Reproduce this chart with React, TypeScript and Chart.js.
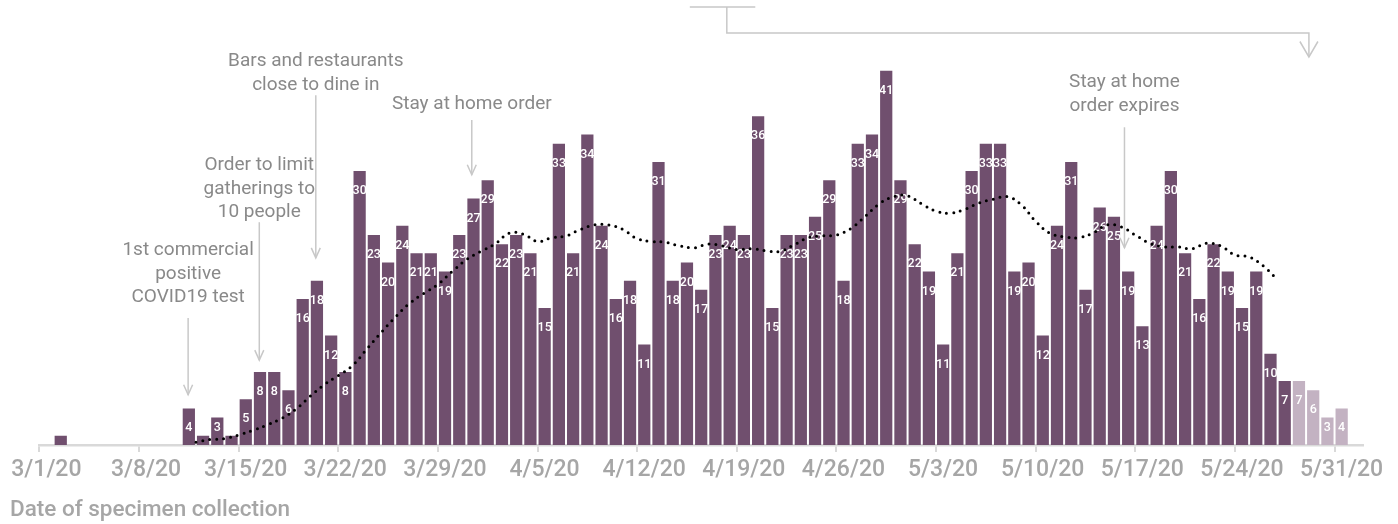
import React, { useEffect, useRef } from "react";
import { Chart, registerables } from "chart.js";

Chart.register(...registerables);

// Daily counts by date of specimen collection, 3/1/20 – 5/27/20
const reportedCases = [
  0, 1, 0, 0, 0, 0, 0, 0, 0, 0, 4, 1, 3, 1, 5, 8, 8, 6, 16, 18, 12, 8, 30, 23, 20, 24, 21, 21, 19, 23,
  27, 29, 22, 23, 21, 15, 33, 21, 34, 24, 16, 18, 11, 31, 18, 20, 17, 23, 24, 23, 36, 15, 23, 23, 25, 29,
  18, 33, 34, 41, 29, 22, 19, 11, 21, 30, 33, 33, 19, 20, 12, 24, 31, 17, 26, 25, 19, 13, 24, 30, 21, 16,
  22, 19, 15, 19, 10, 7,
];
// Most recent days (lighter bars), 5/28/20 – 5/31/20
const pendingCases = [7, 6, 3, 4];

// Dotted trend line, one value per day starting at day index 11 (3/12/20)
const trendStartDay = 11;
const trendValues = [
  0.3, 0.6, 0.7, 1.1, 1.6, 2.2, 2.9, 3.9, 5.3, 6.6, 7.6, 8.7, 10.5, 12.3, 14.0, 15.5, 16.6, 17.6, 19.0,
  20.3, 21.2, 22.0, 23.2, 23.1, 22.3, 22.7, 22.9, 23.6, 24.1, 24.1, 23.6, 22.6, 22.3, 22.2, 21.8, 21.6,
  22.0, 21.8, 21.4, 21.5, 21.3, 21.2, 21.9, 22.7, 22.9, 23.0, 23.7, 25.0, 26.4, 27.2, 27.3, 26.4, 25.6,
  25.4, 25.8, 26.5, 26.9, 27.2, 26.3, 24.5, 23.2, 22.8, 22.7, 23.2, 24.1, 23.9, 23.0, 22.1, 21.7, 21.7,
  21.5, 22.1, 21.8, 20.8, 20.6, 19.6, 18.1,
];

// Weekly tick labels (every 7 days from 3/1/20)
const weekTickLabels = [
  "3/1/20", "3/8/20", "3/15/20", "3/22/20", "3/29/20", "4/5/20", "4/12/20",
  "4/19/20", "4/26/20", "5/3/20", "5/10/20", "5/17/20", "5/24/20", "5/31/20",
];
const axisTitle = "Date of specimen collection";

// Event annotations (day position, text lines, text/arrow heights in case units)
const annotations = [
  { day: 10.45, lines: ["1st commercial", "positive", "COVID19 test"], textTop: 21.3, arrowFrom: 13.9, arrowTo: 5.5 },
  { day: 15.45, lines: ["Order to limit", "gatherings to", "10 people"], textTop: 30.6, arrowFrom: 24.4, arrowTo: 9.3 },
  { day: 19.42, lines: ["Bars and restaurants", "close to dine in"], textTop: 42.0, arrowFrom: 38.3, arrowTo: 20.5 },
  { day: 30.38, lines: ["Stay at home order"], textTop: 37.3, arrowFrom: 35.6, arrowTo: 29.6 },
  { day: 76.24, lines: ["Stay at home", "order expires"], textTop: 39.7, arrowFrom: 34.8, arrowTo: 21.6 },
];

const BAR_COLOR = "#704F6E";
const PENDING_COLOR = "#C3B2C2";
const AXIS_COLOR = "#D9D9D9";
const TICK_TEXT = "#A6A6A6";
const NOTE_TEXT = "#898989";
const ARROW_COLOR = "#C8C8C8";
const FONT = "Roboto";

const dailyCases = [...reportedCases, ...pendingCases];

const barLabelPlugin = {
  id: "barLabels",
  afterDatasetDraw(chart: any, args: any) {
    if (args.index !== 0) return;
    const ctx = chart.ctx;
    const meta = chart.getDatasetMeta(0);
    ctx.save();
    ctx.font = `500 12.5px ${FONT}`;
    ctx.fillStyle = "#FFFFFF";
    ctx.textAlign = "center";
    ctx.textBaseline = "middle";
    meta.data.forEach((bar: any, i: number) => {
      const v = dailyCases[i];
      if (v < 3) return;
      const h = bar.base - bar.y;
      const off = Math.min(20, h - 17);
      ctx.fillText(String(v), bar.x, bar.y + off);
    });
    ctx.restore();
  },
};

function drawChevron(ctx: CanvasRenderingContext2D, x: number, y: number, hw: number, h: number) {
  ctx.beginPath();
  ctx.moveTo(x - hw, y - h);
  ctx.lineTo(x, y);
  ctx.lineTo(x + hw, y - h);
  ctx.stroke();
}

const annotationPlugin = {
  id: "eventNotes",
  afterDraw(chart: any) {
    const ctx: CanvasRenderingContext2D = chart.ctx;
    const xs = chart.scales.x;
    const ys = chart.scales.y;
    ctx.save();
    ctx.strokeStyle = ARROW_COLOR;
    ctx.lineWidth = 1.5;
    ctx.fillStyle = NOTE_TEXT;
    ctx.font = `19px ${FONT}`;
    ctx.textAlign = "center";
    ctx.textBaseline = "middle";
    for (const a of annotations) {
      const px = xs.getPixelForValue(a.day);
      const ty = ys.getPixelForValue(a.textTop);
      a.lines.forEach((line, k) => ctx.fillText(line, px, ty + k * 23.3));
      const y1 = ys.getPixelForValue(a.arrowFrom);
      const y2 = ys.getPixelForValue(a.arrowTo);
      ctx.beginPath();
      ctx.moveTo(px, y1);
      ctx.lineTo(px, y2);
      ctx.stroke();
      drawChevron(ctx, px, y2, 4.5, 10);
    }
    // bracket pointing at the most recent (lighter) bars
    const ux1 = xs.getPixelForValue(45.7);
    const ux2 = xs.getPixelForValue(50.3);
    const vx = xs.getPixelForValue(48.3);
    const ax = xs.getPixelForValue(89.2);
    ctx.beginPath();
    ctx.moveTo(ux1, 7);
    ctx.lineTo(ux2, 7);
    ctx.moveTo(vx, 7);
    ctx.lineTo(vx, 33);
    ctx.lineTo(ax, 33);
    ctx.lineTo(ax, 57);
    ctx.stroke();
    drawChevron(ctx, ax, 57, 9, 15.5);
    ctx.restore();
  },
};

export default function App() {
  const canvasRef = useRef<HTMLCanvasElement | null>(null);

  useEffect(() => {
    const canvas = canvasRef.current;
    if (!canvas) return;
    const chart = new Chart(canvas, {
      type: "bar",
      data: {
        datasets: [
          {
            type: "bar",
            data: dailyCases.map((v, i) => ({ x: i + 0.5, y: v })),
            backgroundColor: (c: any) => (c.dataIndex >= reportedCases.length ? PENDING_COLOR : BAR_COLOR),
            categoryPercentage: 0.86,
            barPercentage: 1,
            order: 2,
          } as any,
          {
            type: "line",
            data: trendValues.map((v, i) => ({ x: trendStartDay + i, y: v })),
            borderColor: "#000000",
            borderWidth: 3,
            borderDash: [0, 7],
            borderCapStyle: "round",
            pointRadius: 0,
            tension: 0.4,
            fill: false,
            order: 1,
          } as any,
        ],
      },
      options: {
        responsive: false,
        animation: false,
        devicePixelRatio: 1,
        layout: { padding: { left: 10, right: 35, top: 25, bottom: 0 } },
        plugins: {
          legend: { display: false },
          tooltip: { enabled: false },
          title: {
            display: true,
            text: axisTitle,
            position: "bottom",
            align: "start",
            color: TICK_TEXT,
            font: { family: FONT, size: 22.5, weight: "500" },
            padding: { top: 2, bottom: 0 },
          },
        },
        scales: {
          x: {
            type: "linear",
            min: 0,
            max: 93,
            offset: false,
            afterBuildTicks: (s: any) => {
              s.ticks = weekTickLabels.map((_, k) => ({ value: k * 7 }));
            },
            afterFit: (s: any) => {
              s.height = 50;
            },
            ticks: {
              autoSkip: false,
              maxRotation: 0,
              padding: 4,
              labelOffset: 7,
              color: TICK_TEXT,
              font: { family: FONT, size: 23, weight: "500" },
              callback: (_v: any, idx: number) => weekTickLabels[idx] ?? "",
            },
            grid: { offset: false, drawOnChartArea: false, drawTicks: true, tickLength: 7, color: AXIS_COLOR, lineWidth: 2 },
            border: { display: true, color: AXIS_COLOR, width: 2.5 },
          },
          y: {
            min: 0,
            max: 46,
            afterFit: (s: any) => {
              s.width = 29.4;
            },
            ticks: { display: false },
            grid: { display: false },
            border: { display: false },
          },
        },
      } as any,
      plugins: [barLabelPlugin, annotationPlugin],
    });
    return () => chart.destroy();
  }, []);

  return (
    <div style={{ position: "absolute", left: 0, top: 0, width: 1398, height: 524, background: "#ffffff" }}>
      <canvas ref={canvasRef} width={1398} height={524} style={{ display: "block" }} />
    </div>
  );
}
